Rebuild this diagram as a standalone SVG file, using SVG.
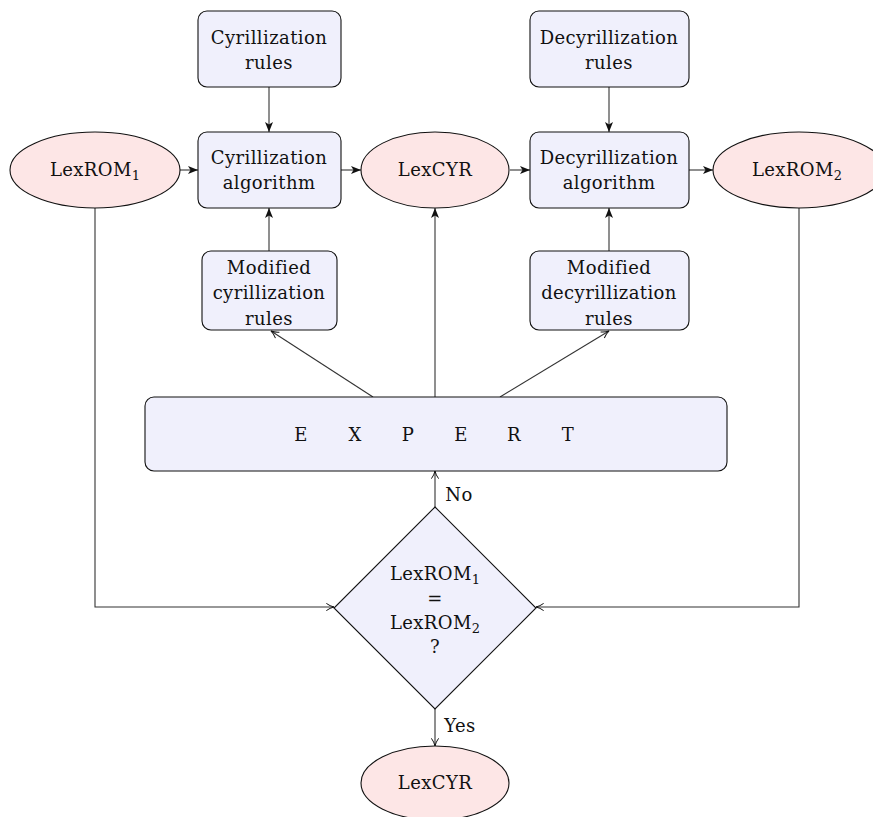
<svg xmlns="http://www.w3.org/2000/svg" width="873" height="817" viewBox="0 0 873 817">
<defs>
<marker id="stealth" viewBox="0 0 10 10" refX="10" refY="5" markerWidth="10" markerHeight="10" markerUnits="userSpaceOnUse" orient="auto">
<path d="M0,1 L10,5 L0,9 L2.5,5 Z" fill="#111"/>
</marker>
<marker id="open" viewBox="0 0 10 10" refX="9.5" refY="5" markerWidth="9" markerHeight="9" markerUnits="userSpaceOnUse" orient="auto">
<path d="M1,1 Q5,4 9.5,5 Q5,6 1,9" fill="none" stroke="#111" stroke-width="1.1"/>
</marker>
</defs>
<style>
.box{fill:#f0f0fc;stroke:#111;stroke-width:1.1}
.ell{fill:#fde6e6;stroke:#111;stroke-width:1.1}
.t{font-family:'DejaVu Serif',serif;font-size:18px;letter-spacing:0.4px;fill:#111;text-anchor:middle}
.sub{font-size:13px;letter-spacing:0}
.c{fill:none;stroke:#333;stroke-width:1.1}
.s{marker-end:url(#stealth)}
.o{marker-end:url(#open)}
</style>
<rect width="873" height="817" fill="#fff"/>
<g id="connectors">
<line class="c s" x1="180" y1="170" x2="198" y2="170"/>
<line class="c s" x1="341" y1="170" x2="361" y2="170"/>
<line class="c s" x1="510" y1="170" x2="530" y2="170"/>
<line class="c s" x1="689" y1="170" x2="713" y2="170"/>
<line class="c s" x1="269" y1="87" x2="269" y2="132"/>
<line class="c s" x1="609" y1="87" x2="609" y2="132"/>
<line class="c s" x1="269" y1="251" x2="269" y2="208"/>
<line class="c s" x1="609" y1="251" x2="609" y2="208"/>
<line class="c s" x1="435" y1="397" x2="435" y2="208"/>
<line class="c o" x1="373" y1="397" x2="271" y2="331"/>
<line class="c o" x1="500" y1="397" x2="609" y2="331"/>
<line class="c o" x1="435" y1="507" x2="435" y2="471"/>
<line class="c o" x1="435" y1="709" x2="435" y2="746"/>
<polyline class="c o" points="95,208 95,607 334,607"/>
<polyline class="c o" points="799,208 799,607 536,607"/>
<text class="t" x="459" y="501">No</text>
<text class="t" x="460" y="732">Yes</text>
</g>
<g id="lexrom1">
<ellipse class="ell" cx="95" cy="170" rx="85" ry="38"/>
<text class="t" x="95" y="176">LexROM<tspan class="sub" dy="4">1</tspan></text>
</g>
<g id="cyr-rules">
<rect class="box" x="198" y="11" width="143" height="76" rx="9"/>
<text class="t" x="269" y="44">Cyrillization</text>
<text class="t" x="269" y="69">rules</text>
</g>
<g id="cyr-alg">
<rect class="box" x="198" y="132" width="143" height="76" rx="9"/>
<text class="t" x="269" y="164">Cyrillization</text>
<text class="t" x="269" y="189">algorithm</text>
</g>
<g id="lexcyr">
<ellipse class="ell" cx="435" cy="170" rx="74" ry="38"/>
<text class="t" x="435" y="176">LexCYR</text>
</g>
<g id="decyr-rules">
<rect class="box" x="530" y="11" width="159" height="76" rx="9"/>
<text class="t" x="609" y="44">Decyrillization</text>
<text class="t" x="609" y="69">rules</text>
</g>
<g id="decyr-alg">
<rect class="box" x="530" y="132" width="159" height="76" rx="9"/>
<text class="t" x="609" y="164">Decyrillization</text>
<text class="t" x="609" y="189">algorithm</text>
</g>
<g id="lexrom2">
<ellipse class="ell" cx="799" cy="170" rx="86" ry="38"/>
<text class="t" x="797" y="176">LexROM<tspan class="sub" dy="4">2</tspan></text>
</g>
<g id="mod-cyr-rules">
<rect class="box" x="202" y="251" width="135" height="79" rx="9"/>
<text class="t" x="269" y="274">Modified</text>
<text class="t" x="269" y="299">cyrillization</text>
<text class="t" x="269" y="325">rules</text>
</g>
<g id="mod-decyr-rules">
<rect class="box" x="530" y="251" width="159" height="79" rx="9"/>
<text class="t" x="609" y="274">Modified</text>
<text class="t" x="609" y="299">decyrillization</text>
<text class="t" x="609" y="325">rules</text>
</g>
<g id="expert">
<rect class="box" x="145" y="397" width="582" height="74" rx="9"/>
<text class="t" x="301 355 408 461 514 568" y="441">EXPERT</text>
</g>
<g id="decision">
<polygon class="box" points="435,507 536,608 435,709 334,608"/>
<text class="t" x="435" y="580">LexROM<tspan class="sub" dy="4">1</tspan></text>
<text class="t" x="435" y="605">=</text>
<text class="t" x="435" y="629">LexROM<tspan class="sub" dy="4">2</tspan></text>
<text class="t" x="435" y="653">?</text>
</g>
<g id="lexcyr-out">
<ellipse class="ell" cx="435" cy="783" rx="74" ry="37"/>
<text class="t" x="435" y="789">LexCYR</text>
</g>
</svg>
